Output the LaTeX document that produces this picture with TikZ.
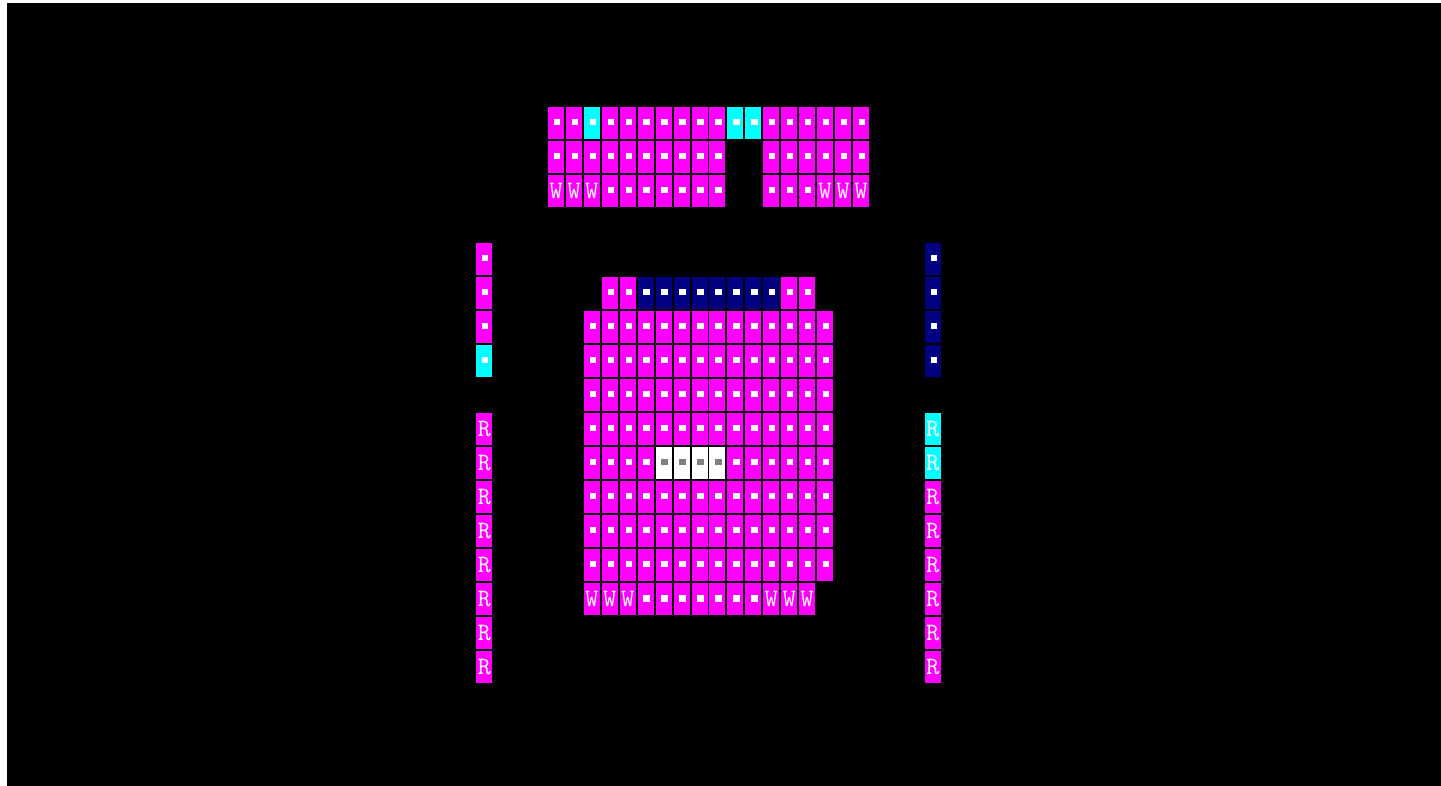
\documentclass[tikz,border=0pt]{standalone}
\definecolor{kpink}{RGB}{255,0,255}
\definecolor{kaqua}{RGB}{0,255,255}
\definecolor{knavy}{RGB}{0,0,128}
\definecolor{kpip}{RGB}{128,128,128}
\tikzset{
  seat/.style={inner sep=0pt, minimum width=16pt, minimum height=32pt, text=white, font=\ttfamily\fontsize{25}{25}\selectfont},
  pip/.style={path picture={\fill[#1] ([shift={(-2.2pt,-2.2pt)}]path picture bounding box.center) rectangle +(6.4pt,6.4pt);}},
  kfree/.style={seat, fill=kpink, pip=white}, khold/.style={seat, fill=kaqua, pip=white},
  ksold/.style={seat, fill=knavy, pip=white}, kopen/.style={seat, fill=white, pip=kpip},
  kletter/.style={seat, fill=kpink}, kletterhold/.style={seat, fill=kaqua},
}
\begin{document}
\begin{tikzpicture}[x=17.94pt, y=-34pt]
    \fill[white] (-556pt,123.3pt) rectangle (885pt,-662.7pt);
    \fill[black] (-549pt,120.3pt) rectangle (885pt,-662.7pt);
    % top block
    \foreach \c in {0,1,3,4,...,9,12,13,...,17} \node[kfree] (s0-\c) at (\c,0) {};
    \foreach \c in {2,10,11} \node[khold] (s0-\c) at (\c,0) {};
    \foreach \c in {0,1,...,9,12,13,...,17} \node[kfree] (s1-\c) at (\c,1) {};
    \foreach \c in {3,4,...,9,12,13,14} \node[kfree] (s2-\c) at (\c,2) {};
    \foreach \c in {0,1,2,15,16,17} \node[kletter] (s2-\c) at (\c,2) {W};
    % main block
    \foreach \c in {3,4,13,14} \node[kfree] (s5-\c) at (\c,5) {};
    \foreach \c in {5,6,...,12} \node[ksold] (s5-\c) at (\c,5) {};
    \foreach \r in {6,7,8,9,11,12,13} \foreach \c in {2,3,...,15} \node[kfree] (s\r-\c) at (\c,\r) {};
    \foreach \c in {2,3,4,5,10,11,...,15} \node[kfree] (s10-\c) at (\c,10) {};
    \foreach \c in {6,7,8,9} \node[kopen] (s10-\c) at (\c,10) {};
    \foreach \c in {5,6,...,11} \node[kfree] (s14-\c) at (\c,14) {};
    \foreach \c in {2,3,4,12,13,14} \node[kletter] (s14-\c) at (\c,14) {W};
    % side columns
    \foreach \r in {4,5,6} \node[kfree] (sl\r) at (-4,\r) {};
    \node[khold] (sl7) at (-4,7) {};
    \foreach \r in {4,5,6,7} \node[ksold] (sr\r) at (21,\r) {};
    \foreach \r in {9,10,...,16} \node[kletter] (sl\r) at (-4,\r) {R};
    \foreach \r in {9,10} \node[kletterhold] (sr\r) at (21,\r) {R};
    \foreach \r in {11,12,...,16} \node[kletter] (sr\r) at (21,\r) {R};
\end{tikzpicture}
\end{document}
